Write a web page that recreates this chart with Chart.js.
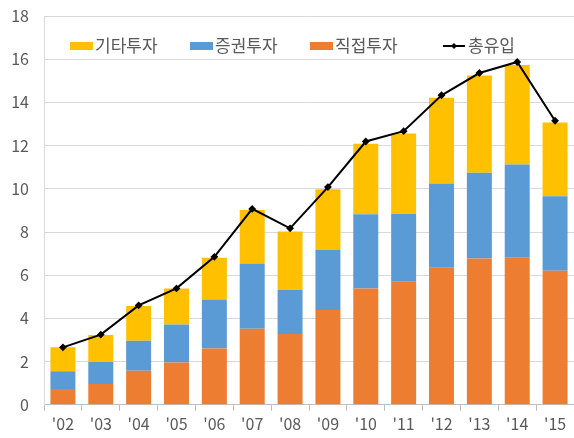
<!DOCTYPE html>
<html>
<head>
<meta charset="utf-8">
<script src="https://cdn.jsdelivr.net/npm/chart.js@4"></script>
<style>
html, body { margin: 0; padding: 0; background: #fff; overflow: hidden; }
#wrap { position: absolute; left: 0; top: 0; width: 580px; height: 438px; }
</style>
</head>
<body>
<div id="wrap"><canvas id="flowChart"></canvas></div>
<script>
// data
const years = ["'02", "'03", "'04", "'05", "'06", "'07", "'08", "'09", "'10", "'11", "'12", "'13", "'14", "'15"];
const direct = [0.73, 0.96, 1.58, 1.96, 2.61, 3.52, 3.28, 4.39, 5.38, 5.70, 6.34, 6.77, 6.81, 6.21];
const portfolio = [0.82, 1.02, 1.39, 1.76, 2.27, 3.02, 2.05, 2.78, 3.44, 3.15, 3.91, 3.97, 4.32, 3.45];
const other = [1.11, 1.25, 1.60, 1.66, 1.93, 2.48, 2.69, 2.81, 3.26, 3.71, 3.97, 4.51, 4.60, 3.41];
const total = [2.66, 3.25, 4.60, 5.39, 6.85, 9.07, 8.17, 10.08, 12.19, 12.67, 14.33, 15.36, 15.87, 13.15];
const yTicks = [0, 2, 4, 6, 8, 10, 12, 14, 16, 18];

const korFont = "'Noto Sans CJK KR', 'Noto Sans', sans-serif";
const textColor = '#595959';

// Legend drawn inside the plot area, like the original
const insideLegend = {
    id: 'insideLegend',
    afterDraw(chart) {
        const ctx = chart.ctx;
        const items = [
            { ds: 3, x: 70 },
            { ds: 2, x: 190 },
            { ds: 1, x: 310 },
            { ds: 0, x: 443 }
        ];
        const y = 46;
        ctx.save();
        ctx.font = '17px ' + korFont;
        ctx.fillStyle = textColor;
        ctx.textBaseline = 'middle';
        items.forEach(it => {
            const ds = chart.data.datasets[it.ds];
            if (ds.type === 'line') {
                ctx.strokeStyle = ds.borderColor;
                ctx.lineWidth = 2;
                ctx.beginPath();
                ctx.moveTo(it.x, y);
                ctx.lineTo(it.x + 22, y);
                ctx.stroke();
                ctx.fillStyle = ds.borderColor;
                ctx.beginPath();
                ctx.moveTo(it.x + 11, y - 3);
                ctx.lineTo(it.x + 14, y);
                ctx.lineTo(it.x + 11, y + 3);
                ctx.lineTo(it.x + 8, y);
                ctx.closePath();
                ctx.fill();
            } else {
                ctx.fillStyle = ds.backgroundColor;
                ctx.fillRect(it.x, y - 4, 23, 8);
            }
            ctx.fillStyle = textColor;
            ctx.fillText(ds.label, it.x + 25, y);
        });
        ctx.restore();
    }
};

const ctx = document.getElementById('flowChart').getContext('2d');
new Chart(ctx, {
    data: {
        labels: years,
        datasets: [
            {
                type: 'line',
                label: '총유입',
                data: total,
                borderColor: '#000000',
                backgroundColor: '#000000',
                borderWidth: 2,
                pointStyle: 'rectRot',
                pointRadius: 2.5,
                tension: 0,
                stack: 'total',
                order: 0
            },
            {
                type: 'bar',
                label: '직접투자',
                data: direct,
                backgroundColor: '#ED7D31',
                stack: 'inv',
                order: 1
            },
            {
                type: 'bar',
                label: '증권투자',
                data: portfolio,
                backgroundColor: '#5B9BD5',
                stack: 'inv',
                order: 1
            },
            {
                type: 'bar',
                label: '기타투자',
                data: other,
                backgroundColor: '#FFC000',
                stack: 'inv',
                order: 1
            }
        ]
    },
    options: {
        responsive: true,
        maintainAspectRatio: false,
        animation: false,
        datasets: {
            bar: { barPercentage: 0.66, categoryPercentage: 1 }
        },
        layout: { padding: { top: 16, right: 3, bottom: 0, left: 0 } },
        plugins: {
            legend: { display: false },
            tooltip: { enabled: false }
        },
        scales: {
            x: {
                stacked: true,
                offset: true,
                grid: {
                    offset: true,
                    drawOnChartArea: false,
                    drawTicks: true,
                    tickLength: 6,
                    color: '#bfbfbf'
                },
                border: { color: '#bfbfbf' },
                ticks: {
                    color: textColor,
                    padding: 4,
                    maxRotation: 0,
                    font: { family: korFont, size: 16 }
                }
            },
            y: {
                stacked: true,
                min: 0,
                max: 18,
                afterBuildTicks(scale) {
                    scale.ticks = yTicks.map(v => ({ value: v }));
                },
                afterFit(scale) {
                    scale.width = 44;
                    scale.paddingTop = 0;
                    scale.paddingBottom = 0;
                },
                grid: {
                    color: '#d9d9d9',
                    drawTicks: false
                },
                border: { color: '#d9d9d9' },
                ticks: {
                    color: textColor,
                    padding: 15,
                    font: { family: korFont, size: 16 }
                }
            }
        }
    },
    plugins: [insideLegend]
});
</script>
</body>
</html>
